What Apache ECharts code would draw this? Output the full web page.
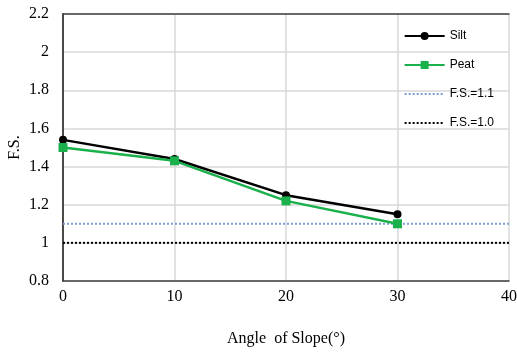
<!DOCTYPE html>
<html>
<head>
<meta charset="utf-8">
<script src="https://cdn.jsdelivr.net/npm/echarts@6/dist/echarts.min.js"></script>
<style>
  html, body { margin: 0; padding: 0; background: #fff; }
  #main { width: 517px; height: 357px; }
</style>
</head>
<body>
<div id="main"></div>
<script>
// data
var angles = [0, 10, 20, 30];
var siltFS = [1.54, 1.44, 1.25, 1.15];
var peatFS = [1.50, 1.43, 1.22, 1.10];
var fsLimitX = [0, 40];
var fs11 = [1.1, 1.1];
var fs10 = [1.0, 1.0];

function pairs(xs, ys) {
  return xs.map(function (x, i) { return [x, ys[i]]; });
}

var chart = echarts.init(document.getElementById('main'));
var serif = '"Liberation Serif", "Times New Roman", serif';
var sans = '"Liberation Sans", Arial, sans-serif';
var frame = { show: true, lineStyle: { color: '#404040', width: 1.5 } };

chart.setOption({
  animation: false,
  backgroundColor: '#fff',
  grid: { left: 63, right: 8, top: 14, bottom: 76, outerBoundsMode: 'none' },
  legend: {
    orient: 'vertical',
    right: 18,
    top: 25,
    itemWidth: 40,
    itemHeight: 10,
    itemGap: 17,
    textStyle: { fontFamily: sans, fontSize: 12, color: '#000' },
    data: [
      'Silt', 'Peat',
      { name: 'F.S.=1.1', itemStyle: { opacity: 0 } },
      { name: 'F.S.=1.0', itemStyle: { opacity: 0 } }
    ]
  },
  xAxis: [{
    type: 'value',
    min: 0, max: 40, interval: 10,
    name: 'Angle  of Slope(°)',
    nameLocation: 'middle',
    nameGap: 50,
    nameMoveOverlap: false,
    nameTextStyle: { fontFamily: serif, fontSize: 16, color: '#000' },
    axisLine: frame,
    axisTick: { show: false },
    axisLabel: { fontFamily: serif, fontSize: 16, color: '#000', margin: 8 },
    splitLine: { show: true, lineStyle: { color: '#d9d9d9', width: 1.5 } }
  }, {
    type: 'value', position: 'top', min: 0, max: 40, interval: 10,
    axisLine: frame, axisTick: { show: false }, axisLabel: { show: false }, splitLine: { show: false }
  }],
  yAxis: [{
    type: 'value',
    min: 0.8, max: 2.2, interval: 0.2,
    name: 'F.S.',
    nameLocation: 'middle',
    nameGap: 40,
    nameMoveOverlap: false,
    nameTextStyle: { fontFamily: serif, fontSize: 16, color: '#000' },
    axisLine: frame,
    axisTick: { show: false },
    axisLabel: {
      fontFamily: serif, fontSize: 16, color: '#000', margin: 14,
      formatter: function (v) { return String(Math.round(v * 10) / 10); }
    },
    splitLine: { show: true, lineStyle: { color: '#d9d9d9', width: 1.5 } }
  }, {
    type: 'value', position: 'right', min: 0.8, max: 2.2, interval: 0.2,
    axisLine: frame, axisTick: { show: false }, axisLabel: { show: false }, splitLine: { show: false }
  }],
  series: [
    {
      name: 'F.S.=1.1', type: 'line', data: pairs(fsLimitX, fs11),
      symbol: 'none', color: '#7f9ed8',
      lineStyle: { type: [2, 2], width: 2, color: '#7f9ed8' }
    },
    {
      name: 'F.S.=1.0', type: 'line', data: pairs(fsLimitX, fs10),
      symbol: 'none', color: '#000',
      lineStyle: { type: [2, 2], width: 2, color: '#000' }
    },
    {
      name: 'Silt', type: 'line', data: pairs(angles, siltFS),
      symbol: 'circle', symbolSize: 8, color: '#000',
      lineStyle: { width: 2.5, color: '#000' }, itemStyle: { color: '#000' }
    },
    {
      name: 'Peat', type: 'line', data: pairs(angles, peatFS),
      symbol: 'rect', symbolSize: 9, color: '#1ab04c',
      lineStyle: { width: 2.5, color: '#1ab04c' }, itemStyle: { color: '#1ab04c' }
    }
  ]
});
</script>
</body>
</html>
